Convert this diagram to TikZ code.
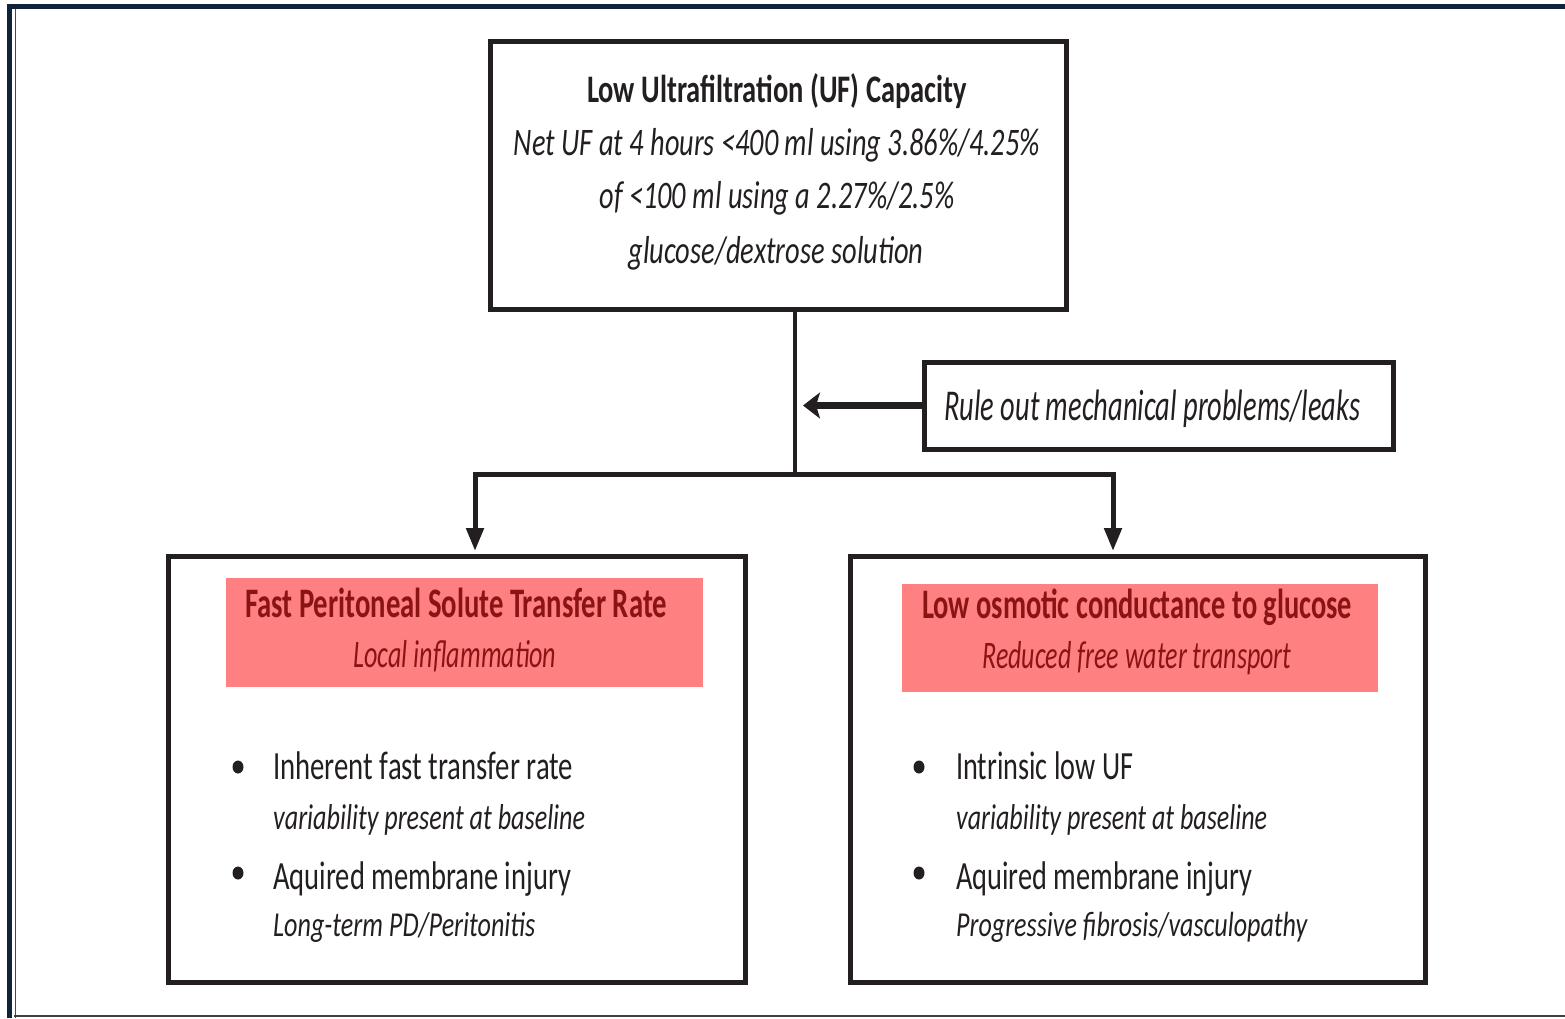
\documentclass[tikz,border=0pt]{standalone}
\usepackage{fontspec}
\setmainfont{Carlito}
\usepackage{graphicx}
\usetikzlibrary{arrows.meta,shapes.geometric}
\definecolor{navy}{HTML}{10233A}
\definecolor{ink}{HTML}{231F20}
\definecolor{pinkfill}{HTML}{FF8080}
\definecolor{darkred}{HTML}{8A1414}
\newcommand\fitw[2]{\resizebox{#1pt}{\height}{#2}}
\newcommand\fsz[1]{\fontsize{#1}{#1}\selectfont}
\begin{document}
\begin{tikzpicture}[x=1pt,y=-1pt,
  box/.style={draw=ink, line width=5pt, inner sep=0pt, line join=miter},
  pinkbox/.style={fill=pinkfill, inner sep=0pt},
  txt/.style={inner sep=0pt, anchor=base, text=ink},
  ltxt/.style={inner sep=0pt, anchor=base west, text=ink},
  redtxt/.style={inner sep=0pt, anchor=base, text=darkred},
  conn/.style={draw=ink, line width=4pt, line join=miter},
  downarr/.style={conn, line width=5pt, -{Triangle[length=23pt,width=17pt]}},
  leftarr/.style={conn, line width=7pt, -{Stealth[length=17pt,width=26pt,inset=4pt]}},
  dot/.style={ellipse, fill=ink, minimum width=11pt, minimum height=13pt, inner sep=0pt}]
\useasboundingbox (0,0) rectangle (1565,1018);
% frame
\fill[navy] (7,4) rectangle (1565,8.5);
\fill[navy] (7,4) rectangle (12,1018);
\draw[black!70, line width=1pt] (15.5,8.5) -- (15.5,1018);
\draw[black!75, line width=2pt] (14,1016) -- (1565,1016);
% boxes
\node[box, minimum width=576pt, minimum height=268pt] (top) at (778,175) {};
\node[box, minimum width=469pt, minimum height=87pt] (rule) at (1158.5,405.5) {};
\node[box, minimum width=577pt, minimum height=426pt] (lbox) at (456.5,769) {};
\node[box, minimum width=575pt, minimum height=426pt] (rbox) at (1137.5,769) {};
\node[pinkbox, minimum width=477pt, minimum height=109pt] (lpink) at (464.5,632.5) {};
\node[pinkbox, minimum width=476pt, minimum height=108pt] (rpink) at (1140,638) {};
% top texts
\node[txt] (t1) at (777,102) {\fsz{39}\bfseries\fitw{380}{Low Ultrafiltration (UF) Capacity}};
\node[txt] (t2) at (777,155) {\fsz{39}\itshape\fitw{526}{Net UF at 4 hours <400 ml using 3.86\%/4.25\%}};
\node[txt] (t3) at (777,208) {\fsz{39}\itshape\fitw{355}{of <100 ml using a 2.27\%/2.5\%}};
\node[txt] (t4) at (776,263) {\fsz{39}\itshape\fitw{295}{glucose/dextrose solution}};
% rule
\node[ltxt] (r1) at (944,420) {\fsz{44}\itshape\fitw{416}{Rule out mechanical problems/leaks}};
% pink headers
\node[redtxt] (p1) at (456,617) {\fsz{42}\bfseries\fitw{422}{Fast Peritoneal Solute Transfer Rate}};
\node[redtxt] (p2) at (455,667) {\fsz{39}\itshape\fitw{203}{Local inflammation}};
\node[redtxt] (p3) at (1137,618) {\fsz{42}\bfseries\fitw{430}{Low osmotic conductance to glucose}};
\node[redtxt] (p4) at (1137,668) {\fsz{39}\itshape\fitw{309}{Reduced free water transport}};
% left bullets
\node[dot] (lb1) at (238,767) {};
\node[dot] (lb2) at (238,873) {};
\node[ltxt] (l1) at (273,779) {\fsz{40}\fitw{300}{Inherent fast transfer rate}};
\node[ltxt] (l2) at (273,829) {\fsz{36}\itshape\fitw{312}{variability present at baseline}};
\node[ltxt] (l3) at (273,889) {\fsz{40}\fitw{298}{Aquired membrane injury}};
\node[ltxt] (l4) at (273,936) {\fsz{35}\itshape\fitw{262}{Long-term PD/Peritonitis}};
% right bullets
\node[dot] (rb1) at (919,767) {};
\node[dot] (rb2) at (919,873) {};
\node[ltxt] (q1) at (956,779) {\fsz{40}\fitw{177}{Intrinsic low UF}};
\node[ltxt] (q2) at (956,829) {\fsz{36}\itshape\fitw{311}{variability present at baseline}};
\node[ltxt] (q3) at (956,889) {\fsz{40}\fitw{296}{Aquired membrane injury}};
\node[ltxt] (q4) at (956,936) {\fsz{35}\itshape\fitw{351}{Progressive fibrosis/vasculopathy}};
% connectors
\coordinate (j) at (795,474);
\coordinate (ra) at (803,405.5);
\draw[conn] ([xshift=17pt]top.south) -- (j);
\draw[downarr] (j) -| ([xshift=18.5pt,yshift=2.5pt]lbox.north);
\draw[downarr] (j) -| ([xshift=-24.5pt,yshift=2.5pt]rbox.north);
\draw[leftarr] (rule.west) -- (ra);
\end{tikzpicture}
\end{document}
